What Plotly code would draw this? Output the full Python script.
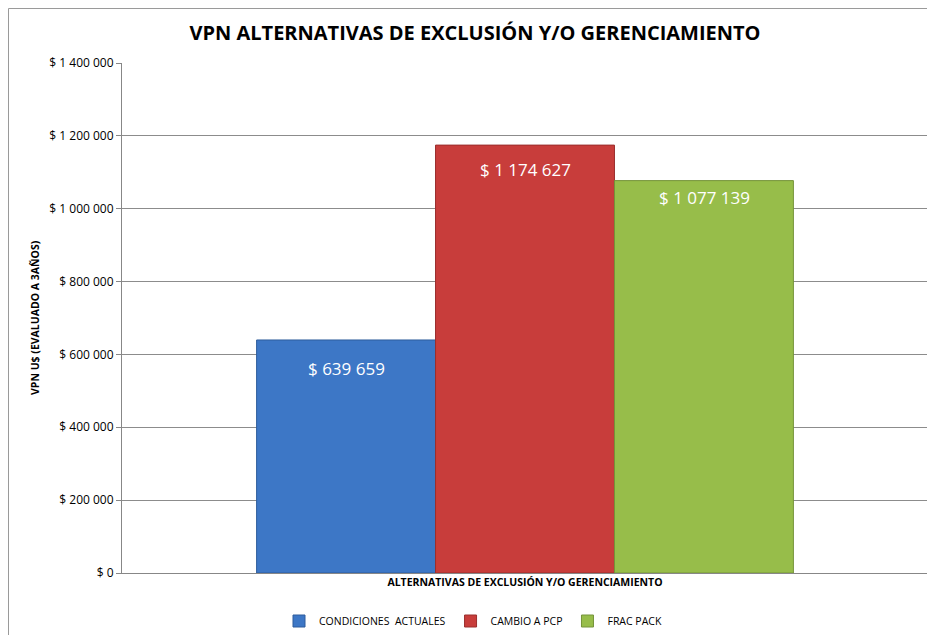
import plotly.graph_objects as go

category = ["ALTERNATIVAS DE EXCLUSIÓN Y/O GERENCIAMIENTO"]
series_names = ["CONDICIONES  ACTUALES", "CAMBIO A PCP", "FRAC PACK"]
series_values = [639659, 1174627, 1077139]
y_ticks = [0, 200000, 400000, 600000, 800000, 1000000, 1200000, 1400000]

# styling
series_colors = ["#3D77C6", "#C83D3B", "#97BD4A"]
series_lines = ["#2E5D9C", "#9A2E2D", "#75933A"]
label_shift = [-29, -24, -17]

FONT = "Open Sans, Noto Sans, sans-serif"


def fmt(v):
    return "$ " + f"{v:,}".replace(",", " ")


y_ticktext = [fmt(v) for v in y_ticks]

fig = go.Figure()
for name, val, col, lc in zip(series_names, series_values, series_colors, series_lines):
    fig.add_trace(go.Bar(
        x=category, y=[val], name=name,
        marker=dict(color=col, line=dict(color=lc, width=1)),
        hoverinfo="skip",
    ))

W, H = 927, 627
L, R, T, B = 114, 7, 55, 62
PW, PH = W - L - R, H - T - B

bar_px = 179
for i, val in enumerate(series_values):
    fig.add_annotation(
        x=category[0], y=val, xref="x", yref="y",
        text=fmt(val), showarrow=False,
        xshift=(i - 1) * bar_px, yshift=label_shift[i],
        font=dict(family=FONT, size=17, color="white"),
    )

# y-axis title
fig.add_annotation(
    x=(27 - L) / PW, y=0.5, xref="paper", yref="paper",
    text="<b>VPN U$ (EVALUADO A 3AÑOS)</b>", showarrow=False, textangle=-90,
    xanchor="center", yanchor="middle",
    font=dict(family=FONT, size=10.5, color="black"),
)

fig.update_layout(
    width=W, height=H,
    margin=dict(l=L, r=R, t=T, b=B),
    paper_bgcolor="white", plot_bgcolor="white",
    barmode="group", bargap=0.334, bargroupgap=0,
    title=dict(text="<b>VPN ALTERNATIVAS DE EXCLUSIÓN Y/O GERENCIAMIENTO</b>",
               x=467 / W, xref="container", xanchor="center",
               y=1 - 25 / H, yref="container", yanchor="middle",
               font=dict(family=FONT, size=20, color="black")),
    legend=dict(orientation="h", xref="container", yref="container",
                x=465 / W, xanchor="center", y=1 - 613 / H, yanchor="middle",
                font=dict(family=FONT, size=10.5, color="black"),
                itemwidth=30, traceorder="normal"),
    font=dict(family=FONT, color="black"),
    shapes=[dict(type="rect", xref="paper", yref="paper",
                 x0=(0.5 - L) / PW, x1=1.2, y0=-0.3, y1=(PH + T - 0.5) / PH,
                 line=dict(color="#9A9A9A", width=1), layer="below")],
)

fig.update_xaxes(
    showticklabels=False, showline=True, linecolor="#878787", linewidth=1,
    ticks="", showgrid=False,
    title=dict(text="<b>ALTERNATIVAS DE EXCLUSIÓN Y/O GERENCIAMIENTO</b>",
               font=dict(family=FONT, size=10.5, color="black"), standoff=5),
)
fig.update_yaxes(
    range=[0, 1400000], tickmode="array", tickvals=y_ticks, ticktext=y_ticktext,
    showline=True, linecolor="#878787", linewidth=1,
    ticks="outside", ticklen=5, tickcolor="#878787",
    showgrid=True, gridcolor="#8C8C8C", gridwidth=1,
    tickfont=dict(family=FONT, size=12, color="black"),
    zeroline=False,
)

fig.write_html("out.html")
